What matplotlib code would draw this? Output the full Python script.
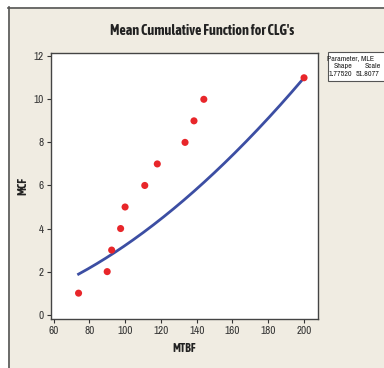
import matplotlib
matplotlib.use("Agg")
import matplotlib.pyplot as plt
from matplotlib.lines import Line2D
from matplotlib.patches import Rectangle
import numpy as np

plt.rcParams['font.family'] = ['Archivo Narrow', 'Asap Condensed', 'DejaVu Sans']
bold_fam = ['Asap Condensed', 'Saira SemiCondensed', 'DejaVu Sans']

# data
mtbf = [74, 90, 92.5, 97.5, 100, 111, 118, 133.5, 138.5, 144, 200]
mcf = [1, 2, 3, 4, 5, 6, 7, 8, 9, 10, 11]
shape = 1.77520
scale = 51.8077
xticks = [60, 80, 100, 120, 140, 160, 180, 200]
yticks = [0, 2, 4, 6, 8, 10, 12]

bg = "#f0ece2"
fig = plt.figure(figsize=(3.84, 3.68), dpi=100, facecolor=bg)
W, H = 384, 368
ax = fig.add_axes([51 / W, 1 - 319 / H, (318 - 51) / W, (319 - 53) / H])
ax.set_facecolor("white")

t = np.linspace(min(mtbf), max(mtbf), 200)
ax.plot(t, (t / scale) ** shape, color="#3c4ea3", lw=2.0, zorder=2)
ax.scatter(mtbf, mcf, s=26, color="#e8262a", zorder=3, edgecolors="none")

ax.set_xlim(58.6, 207.8)
ax.set_ylim(-0.2, 12.15)
ax.set_xticks(xticks)
ax.set_yticks(yticks)
for s in ax.spines.values():
    s.set_color("#444444")
    s.set_linewidth(1.0)
ax.tick_params(labelsize=8, colors="#333333", length=3, width=0.8, pad=2)
ax.set_xlabel("MTBF", fontsize=8.5, fontweight="bold", color="#222222", family=bold_fam)
ax.xaxis.set_label_coords(0.5, -23 / 266, transform=ax.transAxes)
ax.set_ylabel("MCF", fontsize=8.5, fontweight="bold", color="#222222", family=bold_fam)
ax.yaxis.set_label_coords(-22 / 267, 0.5, transform=ax.transAxes)

fig.text(202 / W, 1 - 31 / H, "Mean Cumulative Function for CLG's", ha="center",
         va="center", fontsize=10.2, fontweight="bold", color="#222222", family=bold_fam)

# parameter box
fig.patches.append(Rectangle((328 / W, 1 - 81 / H), 60 / W, 29 / H,
                             transform=fig.transFigure, facecolor="white",
                             edgecolor="#555555", lw=0.8))
fs = 5.7
fig.text(351 / W, 1 - 58 / H, "Parameter, MLE", fontsize=fs, va="center", ha="center", color="#222222")
fig.text(343 / W, 1 - 66 / H, "Shape", fontsize=fs, va="center", ha="center", color="#222222")
fig.text(373 / W, 1 - 66 / H, "Scale", fontsize=fs, va="center", ha="center", color="#222222")
fig.text(340 / W, 1 - 74 / H, f"{shape:.5f}", fontsize=fs, va="center", ha="center", color="#222222")
fig.text(368 / W, 1 - 74 / H, f"{scale:.4f}", fontsize=fs, va="center", ha="center", color="#222222")

# outer frame lines
fig.patches.append(Rectangle((0, 1 - 7 / H), 1, 7 / H, transform=fig.transFigure,
                             facecolor="white", edgecolor="none", zorder=0))
fig.patches.append(Rectangle((0, 0), 8 / W, 1, transform=fig.transFigure,
                             facecolor="white", edgecolor="none", zorder=0))
fig.add_artist(Line2D([8.5 / W, 8.5 / W], [1 - 7 / H, 0], transform=fig.transFigure,
                      color="#555555", lw=1.2))
fig.add_artist(Line2D([8 / W, 1], [1 - 7.5 / H, 1 - 7.5 / H], transform=fig.transFigure,
                      color="#555555", lw=1.2))

fig.savefig("out.png", dpi=100, facecolor=bg)
